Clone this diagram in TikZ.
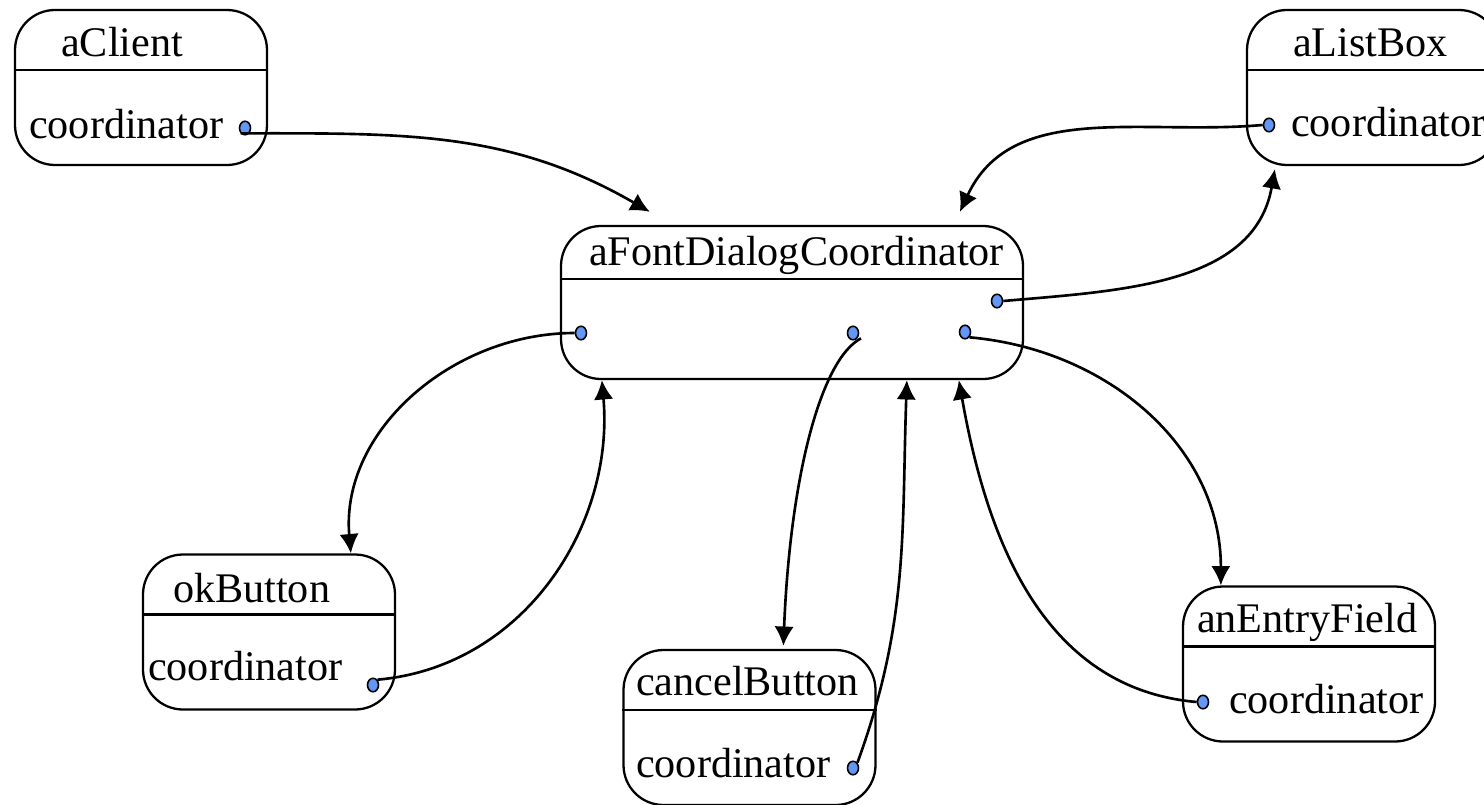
\documentclass[tikz,border=0pt]{standalone}
\usepackage{fontspec}
\setmainfont{Liberation Serif}
\usetikzlibrary{arrows.meta,shapes.geometric}
\definecolor{dotblue}{RGB}{100,150,245}
\begin{document}
\begin{tikzpicture}[line width=1.3pt, font=\rmfamily\fontsize{24}{28}\selectfont]
	\tikzset{obj/.style={draw, rounded corners=0.8cm, minimum width=5.04cm, minimum height=3.1cm, inner sep=0pt}}
	\tikzset{txt/.style={anchor=base west, inner sep=0pt}}
	\tikzset{pin/.style={ellipse, draw, fill=dotblue, line width=0.9pt, minimum width=0.22cm, minimum height=0.27cm, inner sep=0pt}}
	\tikzset{link/.style={-{Latex[length=11pt,width=11pt]}, line width=1.5pt}}
	\useasboundingbox (0,0) rectangle (29.68,-16.08);

	% the objects
	\node [obj] (client) at (2.82,-1.75) {};
	\node [obj] (listbox) at (27.46,-1.75) {};
	\node [obj, minimum width=9.24cm, minimum height=3.06cm] (dialog) at (15.84,-6.05) {};
	\node [obj] (ok) at (5.38,-12.64) {};
	\node [obj] (cancel) at (14.99,-14.55) {};
	\node [obj] (entry) at (26.18,-13.28) {};
	\foreach \o in {client, listbox, ok, cancel, entry}
		\draw ([yshift=-1.22cm]\o.north west) -- ([yshift=-1.22cm]\o.north east);
	\draw ([yshift=-1.08cm]dialog.north west) -- ([yshift=-1.08cm]dialog.north east);

	% names and fields
	\node [txt] (clientname) at (1.2,-1.14) {aClient};
	\node [txt] (clientattr) at (0.56,-2.76) {coordinator};
	\node [txt] (listname) at (25.84,-1.14) {aListBox};
	\node [txt] (listattr) at (25.8,-2.74) {coordinator};
	\node [txt] (dialogname) at (11.76,-5.3) {aFontDialogCoordinator};
	\node [txt] (okname) at (3.44,-12.04) {okButton};
	\node [txt] (okattr) at (2.94,-13.6) {coordinator};
	\node [txt] (cancelname) at (12.7,-13.9) {cancelButton};
	\node [txt] (cancelattr) at (12.7,-15.54) {coordinator};
	\node [txt] (entryname) at (23.92,-12.64) {anEntryField};
	\node [txt] (entryattr) at (24.56,-14.26) {coordinator};

	% reference dots
	\node [pin] (clientdot) at (4.9,-2.56) {};
	\node [pin] (listdot) at (25.38,-2.5) {};
	\node [pin] (dlgA) at (11.62,-6.66) {};
	\node [pin] (dlgB) at (17.06,-6.66) {};
	\node [pin] (dlgC) at (19.3,-6.64) {};
	\node [pin] (dlgD) at (19.94,-6.02) {};
	\node [pin] (okdot) at (7.46,-13.7) {};
	\node [pin] (canceldot) at (17.06,-15.36) {};
	\node [pin] (entrydot) at (24.06,-14.04) {};

	% references
	\draw [link] (clientdot.south west) to[out=0, in=150] ([xshift=1.8cm, yshift=0.26cm]dialog.north west);
	\draw [link] (listdot.west) to[out=185, in=65] ([xshift=8cm, yshift=0.26cm]dialog.north west);
	\draw [link] (dlgD.east) to[out=5, in=-100] ([xshift=0.58cm, yshift=-0.06cm]listbox.south west);
	\draw [link] (dlgA.west) to[out=180, in=95] ([xshift=4.18cm]ok.north west);
	\draw [link] (okdot.north east) to[out=5, in=-85] ([xshift=0.84cm]dialog.south west);
	\draw [link] ([xshift=2pt]dlgB.south east) .. controls (16.4,-7.2) and (15.8,-9.6) .. ([xshift=3.22cm, yshift=0.06cm]cancel.north west);
	\draw [link] (canceldot.north east) to[out=70, in=-92] ([xshift=6.94cm]dialog.south west);
	\draw [link] (entrydot.west) to[out=175, in=-80] ([xshift=7.98cm]dialog.south west);
	\draw [link] (dlgC.south east) to[out=-5, in=90] ([xshift=0.78cm]entry.north west);
\end{tikzpicture}
\end{document}
